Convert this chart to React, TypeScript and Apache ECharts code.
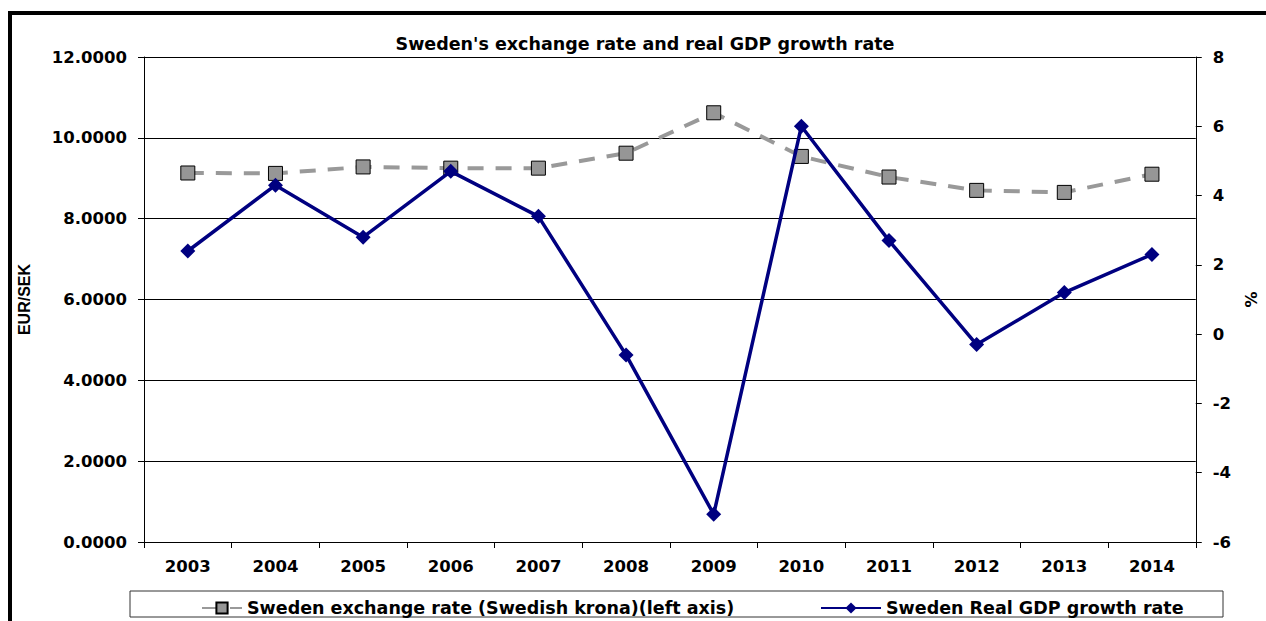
import React, { useEffect, useRef } from "react";
import * as echarts from "echarts";

const years = ["2003", "2004", "2005", "2006", "2007", "2008", "2009", "2010", "2011", "2012", "2013", "2014"];
const exchangeRate = [9.13, 9.12, 9.28, 9.25, 9.25, 9.62, 10.62, 9.54, 9.03, 8.70, 8.65, 9.10];
const gdpGrowth = [2.4, 4.3, 2.8, 4.7, 3.4, -0.6, -5.2, 6.0, 2.7, -0.3, 1.2, 2.3];

const FONT = "'DejaVu Sans', sans-serif";
const SERIES_FX = "Sweden exchange rate (Swedish krona)(left axis)";
const SERIES_GDP = "Sweden Real GDP growth rate";

export default function App() {
  const ref = useRef<HTMLDivElement>(null);
  useEffect(() => {
    if (!ref.current) return;
    const chart = echarts.init(ref.current, undefined, { renderer: "svg" });
    const legendText = { fontFamily: FONT, fontSize: 17.5, fontWeight: "bold", color: "#000" };
    chart.setOption({
      animation: false,
      backgroundColor: "#ffffff",
      textStyle: { fontFamily: FONT },
      title: {
        text: "Sweden's exchange rate and real GDP growth rate",
        left: 640,
        textAlign: "center",
        top: 30,
        textStyle: { fontFamily: FONT, fontSize: 17.5, fontWeight: "bold", color: "#000" },
      },
      graphic: [
        {
          type: "rect",
          shape: { x: 10, y: 13, width: 1300, height: 700 },
          style: { fill: "none", stroke: "#000", lineWidth: 4 },
          silent: true,
        },
        {
          type: "rect",
          shape: { x: 130, y: 591, width: 1093, height: 26 },
          style: { fill: "#fff", stroke: "#333", lineWidth: 1 },
          silent: true,
          z: -1,
        },
      ],
      legend: [
        {
          left: 196,
          top: 594,
          itemWidth: 40,
          itemHeight: 14,
          textStyle: legendText,
          data: [{ name: SERIES_FX }],
        },
        {
          left: 815,
          top: 594,
          itemWidth: 60,
          itemHeight: 14,
          textStyle: legendText,
          data: [{ name: SERIES_GDP }],
        },
      ],
      grid: { left: 144, right: 56, top: 57, bottom: 79 },
      xAxis: {
        type: "category",
        data: years,
        boundaryGap: true,
        axisLine: { lineStyle: { color: "#000", width: 1 } },
        axisTick: { show: true, length: 6, lineStyle: { color: "#000" } },
        axisLabel: { fontFamily: FONT, fontSize: 16.5, fontWeight: "bold", color: "#000", margin: 16 },
      },
      yAxis: [
        {
          type: "value",
          min: 0,
          max: 12,
          interval: 2,
          name: "EUR/SEK",
          nameLocation: "middle",
          nameRotate: 90,
          nameGap: 112,
          nameTextStyle: { fontFamily: "'Liberation Sans', Arial, sans-serif", fontSize: 16, fontWeight: "bold", color: "#000" },
          axisLine: { show: true, lineStyle: { color: "#000" } },
          axisTick: { show: true, length: 6, lineStyle: { color: "#000" } },
          axisLabel: {
            fontFamily: FONT,
            fontSize: 16.5,
            fontWeight: "bold",
            color: "#000",
            margin: 17,
            formatter: (v: number) => v.toFixed(4),
          },
          splitLine: { show: true, lineStyle: { color: "#000", width: 1 } },
        },
        {
          type: "value",
          min: -6,
          max: 8,
          interval: 2,
          position: "right",
          name: "%",
          nameLocation: "middle",
          nameRotate: -90,
          nameGap: 40,
          nameTextStyle: { fontFamily: FONT, fontSize: 16, fontWeight: "bold", color: "#000" },
          axisLine: { show: true, lineStyle: { color: "#000" } },
          axisTick: { show: true, length: 6, lineStyle: { color: "#000" } },
          axisLabel: { fontFamily: FONT, fontSize: 16.5, fontWeight: "bold", color: "#000", margin: 17 },
          splitLine: { show: false },
        },
      ],
      series: [
        {
          name: SERIES_FX,
          type: "line",
          yAxisIndex: 0,
          data: exchangeRate,
          symbol: "rect",
          symbolSize: 14,
          lineStyle: { color: "#999999", width: 4, type: [16, 12] },
          itemStyle: { color: "#969696", borderColor: "#000", borderWidth: 1 },
          z: 2,
        },
        {
          name: SERIES_GDP,
          type: "line",
          yAxisIndex: 1,
          data: gdpGrowth,
          symbol: "diamond",
          symbolSize: 15,
          lineStyle: { color: "#000080", width: 3.5 },
          itemStyle: { color: "#000080" },
          z: 3,
        },
      ],
    });
    return () => chart.dispose();
  }, []);
  return (
    <div
      ref={ref}
      style={{ position: "absolute", left: 0, top: 0, width: 1266, height: 621 }}
    />
  );
}
